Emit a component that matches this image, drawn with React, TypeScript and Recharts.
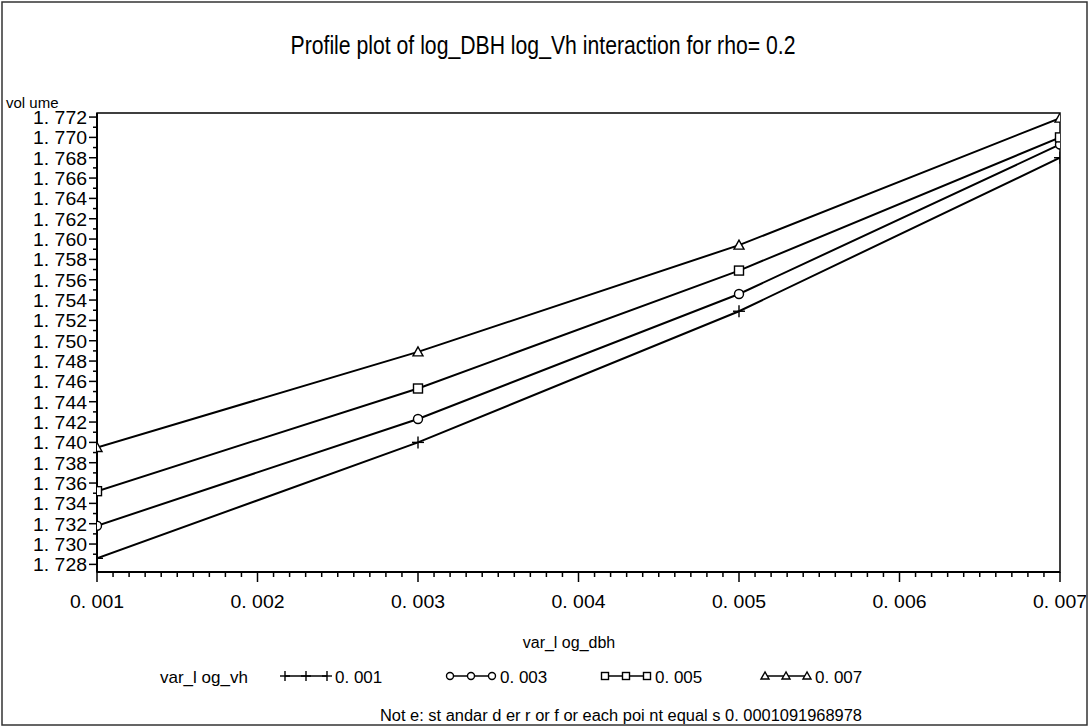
import React from "react";
import { LineChart, Line, XAxis, YAxis, ReferenceArea } from "recharts";

// var_log_dbh levels (x) and the profile for each var_log_vh level
const dbhLevels = [0.001, 0.003, 0.005, 0.007];
const vh001 = [1.7286, 1.74, 1.7529, 1.768];
const vh003 = [1.7318, 1.7423, 1.7546, 1.7693];
const vh005 = [1.7352, 1.7453, 1.7569, 1.77];
const vh007 = [1.7395, 1.7489, 1.7594, 1.7719];

const vhLevels = ["0. 001", "0. 003", "0. 005", "0. 007"];
const xMajorTicks = [0.001, 0.002, 0.003, 0.004, 0.005, 0.006, 0.007];
const yMajorTicks = [
  1.728, 1.73, 1.732, 1.734, 1.736, 1.738, 1.74, 1.742, 1.744, 1.746, 1.748, 1.75,
  1.752, 1.754, 1.756, 1.758, 1.76, 1.762, 1.764, 1.766, 1.768, 1.77, 1.772,
];

const data = dbhLevels.map((x, i) => ({
  x,
  vh001: vh001[i],
  vh003: vh003[i],
  vh005: vh005[i],
  vh007: vh007[i],
}));

// minor ticks between majors
const subdivide = (major: number[], parts: number, digits: number) => {
  const out: number[] = [];
  major.forEach((m, i) => {
    out.push(m);
    if (i < major.length - 1) {
      const step = (major[i + 1] - m) / parts;
      for (let k = 1; k < parts; k++) out.push(Number((m + k * step).toFixed(digits)));
    }
  });
  return out;
};
const xTicks = subdivide(xMajorTicks, 10, 5);
const yTicks = subdivide(yMajorTicks, 2, 4);

const FONT = "'Liberation Sans', Arial, sans-serif";
const Y_MIN = 1.72725;
const Y_MAX = 1.7724;

const isMajor = (v: number, list: number[]) => list.some((m) => Math.abs(m - v) < 1e-7);

const XTick = ({ x, y, payload }: any) => {
  const major = isMajor(payload.value, xMajorTicks);
  return (
    <g>
      <line x1={x} x2={x} y1={y} y2={y + (major ? 10 : 5)} stroke="#000" strokeWidth={1.5} />
      {major && (
        <text
          x={x}
          y={y + 36}
          textAnchor="middle"
          fontSize={18}
          fontFamily={FONT}
          fill="#000"
          textLength={54}
          lengthAdjust="spacingAndGlyphs"
        >
          {"0. " + payload.value.toFixed(3).slice(2)}
        </text>
      )}
    </g>
  );
};

const YTick = ({ x, y, payload }: any) => {
  const major = isMajor(payload.value, yMajorTicks);
  return (
    <g>
      <line x1={x} x2={x - (major ? 8 : 4)} y1={y} y2={y} stroke="#000" strokeWidth={1.5} />
      {major && (
        <text
          x={x - 64}
          y={y + 7}
          fontSize={18}
          fontFamily={FONT}
          fill="#000"
          textLength={54}
          lengthAdjust="spacingAndGlyphs"
        >
          {"1. " + payload.value.toFixed(3).slice(2)}
        </text>
      )}
    </g>
  );
};

const Marker = ({ kind, cx, cy, s = 5 }: any) => {
  const p = { fill: "#fff", stroke: "#000", strokeWidth: 1.4 };
  if (kind === "plus")
    return (
      <g stroke="#000" strokeWidth={1.4}>
        <line x1={cx - s - 1} x2={cx + s + 1} y1={cy} y2={cy} />
        <line x1={cx} x2={cx} y1={cy - s - 1} y2={cy + s + 1} />
      </g>
    );
  if (kind === "circle") return <circle cx={cx} cy={cy} r={s - 0.5} {...p} />;
  if (kind === "square") return <rect x={cx - s + 0.5} y={cy - s + 0.5} width={2 * s - 1} height={2 * s - 1} {...p} />;
  return <polygon points={`${cx},${cy - s} ${cx - s},${cy + s - 1} ${cx + s},${cy + s - 1}`} {...p} />;
};

const kinds = ["plus", "circle", "square", "triangle"];
const keys = ["vh001", "vh003", "vh005", "vh007"];

const legendX = [285, 450, 605, 765];

export default function App() {
  return (
    <div style={{ position: "absolute", left: 0, top: 0, width: 1090, height: 728, background: "#fff" }}>
      <LineChart
        width={1090}
        height={728}
        data={data}
        margin={{ top: 113, right: 30, left: 7, bottom: 96 }}
      >
        <XAxis
          dataKey="x"
          type="number"
          domain={[0.001, 0.007]}
          ticks={xTicks}
          interval={0}
          tickSize={0}
          tickMargin={0}
          tickLine={false}
          tick={<XTick />}
          axisLine={{ stroke: "#000", strokeWidth: 2 }}
          height={60}
          allowDataOverflow
        />
        <YAxis
          type="number"
          domain={[Y_MIN, Y_MAX]}
          ticks={yTicks}
          interval={0}
          tickSize={0}
          tickMargin={0}
          tickLine={false}
          tick={<YTick />}
          axisLine={{ stroke: "#000", strokeWidth: 2 }}
          width={90}
          allowDataOverflow
        />
        <ReferenceArea
          x1={0.001}
          x2={0.007}
          y1={Y_MIN}
          y2={Y_MAX}
          fill="none"
          stroke="#000"
          strokeWidth={1.5}
          ifOverflow="visible"
        />
        {keys.map((k, i) => (
          <Line
            key={k}
            dataKey={k}
            stroke="#000"
            strokeWidth={2}
            isAnimationActive={false}
            dot={(props: any) => <Marker key={props.index} kind={kinds[i]} cx={props.cx} cy={props.cy} />}
            activeDot={false}
          />
        ))}
      </LineChart>
      <svg
        width={1090}
        height={728}
        style={{ position: "absolute", left: 0, top: 0, pointerEvents: "none" }}
        fontFamily={FONT}
      >
        <rect x={2} y={2} width={1085} height={723} fill="none" stroke="#333" strokeWidth={1.5} />
        <text x={543} y={54} textAnchor="middle" fontSize={26} textLength={505} lengthAdjust="spacingAndGlyphs">
          Profile plot of log_DBH log_Vh interaction for rho= 0.2
        </text>
        <text x={6} y={108} fontSize={15}>
          vol ume
        </text>
        <text x={569} y={648} textAnchor="middle" fontSize={16}>
          var_l og_dbh
        </text>
        <text x={160} y={683} fontSize={17}>
          var_l og_vh
        </text>
        {vhLevels.map((lab, i) => {
          const x0 = legendX[i];
          return (
            <g key={lab}>
              <line x1={x0} x2={x0 + 42} y1={676} y2={676} stroke="#000" strokeWidth={1.5} />
              {[0, 21, 42].map((d) => (
                <Marker key={d} kind={kinds[i]} cx={x0 + d} cy={676} s={4} />
              ))}
              <text x={x0 + 50} y={683} fontSize={17}>
                {lab}
              </text>
            </g>
          );
        })}
        <text x={380} y={721} fontSize={16} textLength={482} lengthAdjust="spacingAndGlyphs">
          Not e: st andar d er r or f or each poi nt equal s 0. 0001091968978
        </text>
      </svg>
    </div>
  );
}
